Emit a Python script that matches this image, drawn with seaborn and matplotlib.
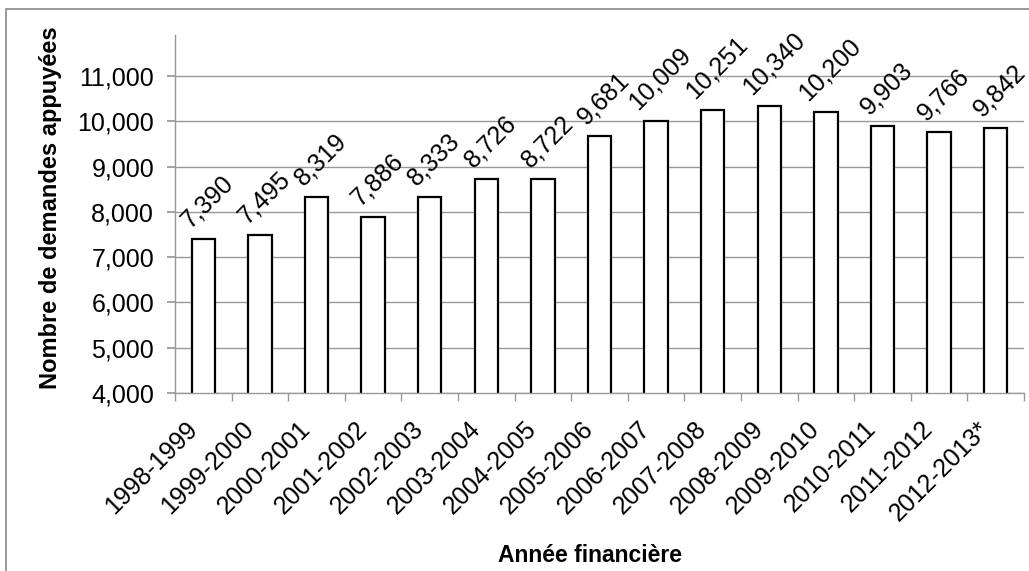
import matplotlib
matplotlib.use("Agg")
import matplotlib.pyplot as plt
import matplotlib.transforms as mtrans
import seaborn as sns
import pandas as pd
from matplotlib.patches import Rectangle
from matplotlib.ticker import FuncFormatter

categories = ["1998-1999", "1999-2000", "2000-2001", "2001-2002", "2002-2003",
              "2003-2004", "2004-2005", "2005-2006", "2006-2007", "2007-2008",
              "2008-2009", "2009-2010", "2010-2011", "2011-2012", "2012-2013*"]
values = [7390, 7495, 8319, 7886, 8333, 8726, 8722, 9681, 10009, 10251,
          10340, 10200, 9903, 9766, 9842]
y_ticks = [4000, 5000, 6000, 7000, 8000, 9000, 10000, 11000]

sns.set_theme(style="white")
plt.rcParams['font.family'] = ['Liberation Sans', 'DejaVu Sans']
plt.rcParams['text.color'] = 'black'
plt.rcParams['axes.labelcolor'] = 'black'
plt.rcParams['xtick.color'] = 'black'
plt.rcParams['ytick.color'] = 'black'

df = pd.DataFrame({"cat": categories, "val": values})

W, H = 1029, 571
L, R, T, B = 175, 1024, 35, 393
fig = plt.figure(figsize=(W / 100, H / 100), dpi=100)
ax = fig.add_axes([L / W, 1 - B / H, (R - L) / W, (B - T) / H])

sns.barplot(data=df, x="cat", y="val", ax=ax, color="white", edgecolor="black",
            linewidth=1.6, width=0.41, saturation=1)

ax.set_ylim(4000, 11905)
ax.set_xlim(-0.5, len(categories) - 0.5)
ax.set_yticks(y_ticks)
ax.yaxis.set_major_formatter(FuncFormatter(lambda v, p: f"{int(v):,}"))
ax.yaxis.grid(True, color="#999999", linewidth=1)
ax.set_axisbelow(True)

for s in ["top", "right"]:
    ax.spines[s].set_visible(False)
for s in ["left", "bottom"]:
    ax.spines[s].set_color("#999999")
    ax.spines[s].set_linewidth(1)

ax.tick_params(axis="y", which="both", left=True, length=6, color="#999999",
               labelcolor="black", labelsize=18, pad=9, direction="out")
ax.set_xticks(range(len(categories)))
ax.set_xticklabels(categories, rotation=45, ha="right", va="center",
                   rotation_mode="anchor", fontsize=18, color="black")
ax.tick_params(axis="x", which="major", bottom=False, pad=20)
shift = mtrans.ScaledTranslation(-10 / 100, 4 / 100, fig.dpi_scale_trans)
for lbl in ax.get_xticklabels():
    lbl.set_transform(lbl.get_transform() + shift)
# category boundary ticks
ax.set_xticks([i - 0.5 for i in range(len(categories) + 1)], minor=True)
ax.tick_params(axis="x", which="minor", bottom=True, length=6, color="#999999",
               direction="out")

for i, v in enumerate(values):
    ax.annotate(f"{v:,}", xy=(i, v), xytext=(3, 5), textcoords="offset points",
                rotation=45, ha="center", va="bottom", fontsize=18,
                color="black")

ax.set_xlabel("Année financière", fontsize=16.5, fontweight="bold",
              color="black")
ax.set_ylabel("Nombre de demandes appuyées", fontsize=17, fontweight="bold",
              color="black")
ax.xaxis.set_label_coords((590 - L) / (R - L), -(555 - B) / (B - T))
ax.yaxis.set_label_coords(-(L - 50) / (R - L), (B - 208) / (B - T))
ax.xaxis.label.set_va("center")
ax.yaxis.label.set_va("center")

fig.patches.append(Rectangle((6 / W, -0.1), 1.2, 1 - 9 / H + 0.1,
                             transform=fig.transFigure, fill=False,
                             edgecolor="#888888", linewidth=1.2))

fig.savefig("out.png", dpi=100)
